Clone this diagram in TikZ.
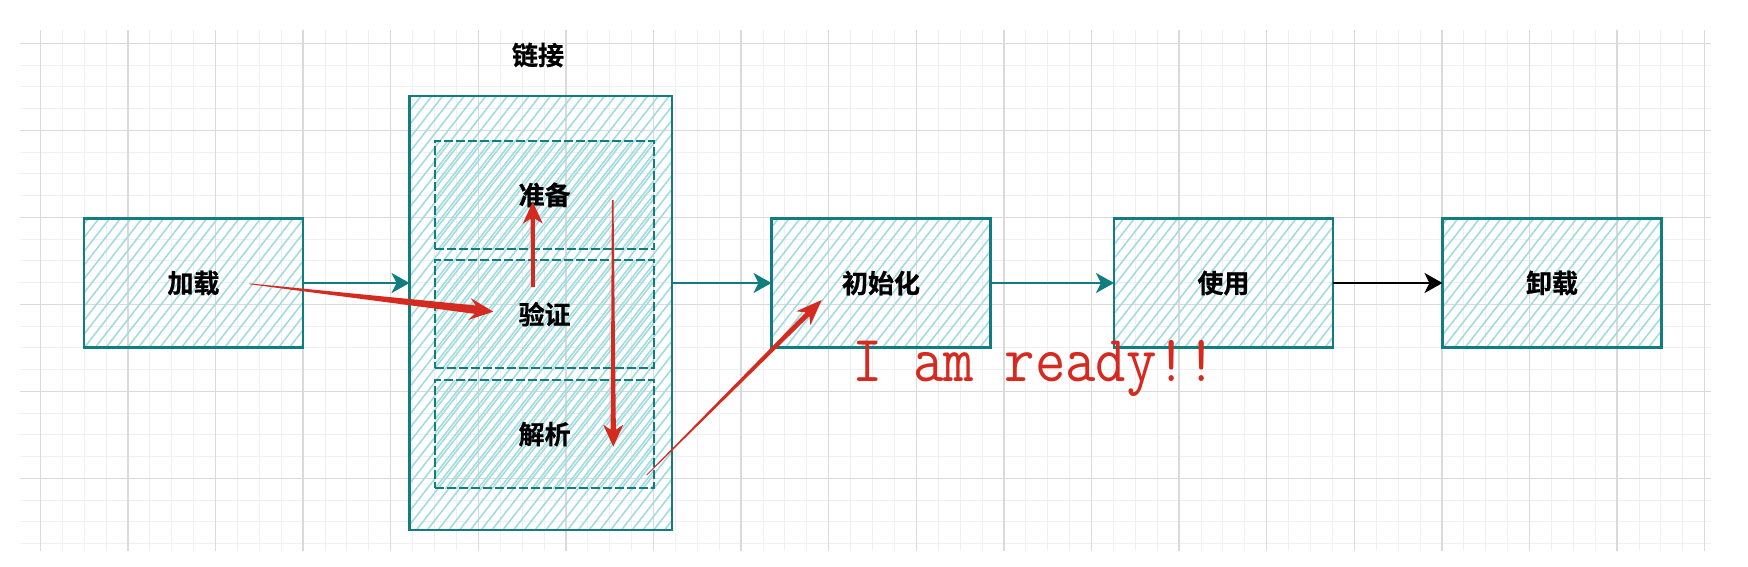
\documentclass[tikz,border=0pt]{standalone}
\usepackage{fontspec}
\usepackage{graphicx}
\newfontfamily\cjk[BoldFont={Noto Sans CJK SC Bold},BoldFeatures={FakeBold=0.8}]{Noto Sans CJK SC}
\usetikzlibrary{calc,arrows.meta,patterns.meta}
\definecolor{teal1}{RGB}{18,125,128}
\definecolor{hatchc}{RGB}{162,219,224}
\definecolor{redc}{RGB}{212,42,32}
\definecolor{gmaj}{RGB}{218,218,218}
\definecolor{gmin}{RGB}{240,240,240}
\newcommand\redarrow[7]{%
  \coordinate (hb) at ($(#2)!#7!(#1)$);
  \coordinate (hc) at ($(#2)!#5!(#1)$);
  \fill[redc] ($(#1)!#3!90:(#2)$) -- ($(hb)!#4!90:(#2)$) -- ($(hc)!#6!90:(#2)$) -- (#2)
    -- ($(hc)!#6!-90:(#2)$) -- ($(hb)!#4!-90:(#2)$) -- ($(#1)!#3!-90:(#2)$) -- cycle;}
\tikzset{
  cnlabel/.style={font=\cjk\bfseries\fontsize{26}{30}\selectfont, text=black},
  hatchA/.style={pattern={Lines[angle=52,distance=8.5pt,line width=1.6pt]}, pattern color=hatchc},
  hatchB/.style={pattern={Lines[angle=52,distance=8.5pt,line width=1.6pt,yshift=4pt]}, pattern color=hatchc},
  mainbox/.style={cnlabel, hatchA, draw=teal1, line width=2.8pt, minimum width=219pt, minimum height=129pt, inner sep=0pt, outer sep=0pt},
  outerbox/.style={hatchA, draw=teal1, line width=2.8pt, minimum width=262.5pt, minimum height=434pt, inner sep=0pt, outer sep=0pt},
  innerbox/.style={cnlabel, hatchB, draw=teal1, line width=2.2pt, dash pattern=on 9pt off 3pt, minimum width=219pt, minimum height=108.3pt, inner sep=0pt, outer sep=0pt},
  flow/.style={draw=teal1, line width=2.4pt, -{Stealth[length=18pt,width=20pt,inset=5pt]}},
  flowblack/.style={draw=black, line width=2.4pt, -{Stealth[length=18pt,width=20pt,inset=5pt]}},
  gminor/.style={draw=gmin, line width=1pt},
  gmajor/.style={draw=gmaj, line width=1.3pt},
}
\begin{document}
\begin{tikzpicture}[x=1pt,y=-1pt]
\useasboundingbox (0,0) rectangle (1748,566);
% canvas grid
\begin{scope}
  \clip (20,30) rectangle (1711,551);
  \foreach \i in {-1,...,78} \draw[gminor] ({40.3+21.9*\i},30) -- ({40.3+21.9*\i},551);
  \foreach \j in {-1,...,24} \draw[gminor] (20,{43.3+21.75*\j}) -- (1711,{43.3+21.75*\j});
  \foreach \i in {0,...,19} \draw[gmajor] ({40.3+87.6*\i},30) -- ({40.3+87.6*\i},551);
  \foreach \j in {0,...,5} \draw[gmajor] (20,{43.3+87*\j}) -- (1711,{43.3+87*\j});
\end{scope}
% boxes
\node[mainbox] (load) at (193.5,283) {加载};
\node[outerbox] (link) at (540.8,313) {};
\node[cnlabel] (linklbl) at (538,55) {链接};
\node[innerbox] (prep) at (544.6,194.9) {准备};
\node[innerbox] (verify) at (544.6,314.2) {验证};
\node[innerbox] (parse) at (544.6,434.2) {解析};
\node[mainbox] (init) at (881,283) {初始化};
\node[mainbox] (use) at (1223.5,283) {使用};
\node[mainbox] (unload) at (1552,283) {卸载};
% connectors
\draw[flow] (load.east) -- (load.east -| link.west);
\draw[flow] (init.west -| link.east) -- (init.west);
\draw[flow] (init.east) -- (use.west);
\draw[flowblack] (use.east) -- (unload.west);
% red annotation arrows
\coordinate (r1s) at (249.5,283.8);
\coordinate (r1e) at (493.3,311.7);
\coordinate (r2s) at (533,287);
\coordinate (r2e) at (532.7,201.7);
\coordinate (r3s) at (612.7,200);
\coordinate (r3e) at (613.3,446.7);
\coordinate (r4s) at (646.7,475);
\coordinate (r4e) at (821.7,300);
\redarrow{r1s}{r1e}{0.4pt}{4.2pt}{24pt}{11pt}{18pt}
\redarrow{r2s}{r2e}{1.8pt}{2.2pt}{22pt}{10pt}{17pt}
\redarrow{r3s}{r3e}{0.8pt}{2.6pt}{22pt}{10pt}{17pt}
\redarrow{r4s}{r4e}{0.4pt}{2.6pt}{26pt}{10pt}{20pt}
\node[anchor=base west, text=redc, font=\ttfamily\fontsize{59}{60}\selectfont, inner sep=0pt] (ready) at (852.5,381) {\scalebox{1}[1.12]{I am ready!!}};
\end{tikzpicture}
\end{document}
